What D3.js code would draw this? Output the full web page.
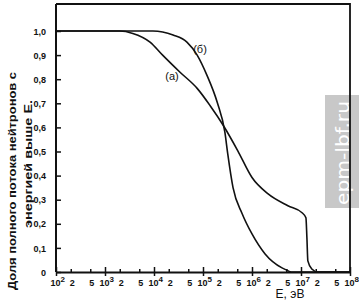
<!DOCTYPE html>
<html>
<head>
<meta charset="utf-8">
<script src="https://cdn.jsdelivr.net/npm/d3@7"></script>
<style>
  body { margin: 0; background: #fff; }
  svg { display: block; }
  text { font-family: "Liberation Sans", "DejaVu Sans", sans-serif; fill: #111; }
</style>
</head>
<body>
<div id="chart"></div>
<script>
// energy (eV) and fraction of total neutron flux above E
var energyA   = [1e2, 2.0e3, 3.7e3, 8.3e3, 1.5e4, 3.4e4, 7.6e4, 1.4e5, 2.6e5, 5.1e5, 1.0e6, 2.1e6, 5.4e6, 1.05e7, 1.26e7, 1.32e7, 1.38e7, 1.66e7, 2.2e7, 1e8];
var fractionA = [1.0, 1.0, 0.99, 0.954, 0.90, 0.829, 0.762, 0.69, 0.608, 0.504, 0.392, 0.325, 0.275, 0.246, 0.225, 0.142, 0.046, 0.0125, 0, 0];

var energyB   = [1e2, 2.0e3, 9.5e3, 2.45e4, 4.7e4, 7.6e4, 1.2e5, 1.95e5, 2.8e5, 3.2e5, 4.1e5, 6.3e5, 1.0e6, 1.85e6, 4.1e6, 5.1e6, 6.3e6, 1e8];
var fractionB = [1.0, 1.0, 1.0, 0.983, 0.954, 0.90, 0.817, 0.704, 0.579, 0.49, 0.35, 0.242, 0.158, 0.075, 0.017, 0.008, 0, 0];

var curveNames = ["(а)", "(б)"];
var yTicks = [0, 0.1, 0.2, 0.3, 0.4, 0.5, 0.6, 0.7, 0.8, 0.9, 1.0];
var decadeExps = [2, 3, 4, 5, 6, 7, 8];
var minorMults = [2, 5];
var yTitle = ["Доля полного потока нейтронов с", "энергией выше E."];
var xTitle = "E, эВ";

var W = 359, H = 304;
var svg = d3.select("#chart").append("svg")
  .attr("width", W).attr("height", H);

var x = d3.scaleLog().domain([1e2, 1e8]).range([56, 350]);
var y = d3.scaleLinear().domain([0, 1]).range([272, 31]);

// watermark strip
svg.append("rect")
  .attr("x", 325).attr("y", 95).attr("width", 34).attr("height", 113)
  .attr("fill", "#c8c8c8");
svg.append("text")
  .attr("transform", "translate(349,153) rotate(-90)")
  .attr("text-anchor", "middle")
  .attr("textLength", 104).attr("lengthAdjust", "spacingAndGlyphs")
  .style("font-family", "'DejaVu Sans', sans-serif")
  .style("font-size", "18px")
  .style("fill", "#fff")
  .text("epm-lbf.ru");

// frame: top and right sides
svg.append("path")
  .attr("d", "M" + x.range()[0] + "," + 4 + "H" + x.range()[1] + "V" + y.range()[0])
  .attr("fill", "none").attr("stroke", "#111").attr("stroke-width", 1.8);

// y axis
var fmt = function(d) { return d === 0 ? "0" : d3.format(".1f")(d).replace(".", ","); };
var gy = svg.append("g")
  .attr("transform", "translate(" + x.range()[0] + ",0)")
  .call(d3.axisLeft(y).tickValues(yTicks).tickSizeInner(-5).tickSizeOuter(0).tickPadding(10).tickFormat(fmt));
gy.select(".domain").attr("stroke", "#111").attr("stroke-width", 2)
  .attr("d", "M0,4V" + y.range()[0]);
gy.selectAll(".tick line").attr("stroke", "#111").attr("stroke-width", 1.5);
gy.selectAll(".tick text")
  .style("font-size", "9px").style("font-weight", "bold").attr("dy", "0.35em");

// x axis
var xTicks = [];
decadeExps.forEach(function(e) {
  xTicks.push(Math.pow(10, e));
  if (e < 8) minorMults.forEach(function(m) { xTicks.push(m * Math.pow(10, e)); });
});
var isMajor = function(v) { return Math.abs(Math.log10(v) - Math.round(Math.log10(v))) < 1e-9; };

var gx = svg.append("g")
  .attr("transform", "translate(0," + y.range()[0] + ")")
  .call(d3.axisBottom(x).tickValues(xTicks).tickSizeInner(-3).tickSizeOuter(0).tickPadding(8).tickFormat(""));
gx.select(".domain").attr("stroke", "#111").attr("stroke-width", 2);
gx.selectAll(".tick line").attr("stroke", "#111").attr("stroke-width", 1.5)
  .filter(isMajor).attr("y1", 4).attr("y2", -5);
gx.selectAll(".tick text").each(function(v) {
  var t = d3.select(this).attr("y", 14).attr("dy", null)
    .style("font-size", "9px").style("font-weight", "bold");
  if (isMajor(v)) {
    t.attr("text-anchor", "start").attr("dx", -6).text("10");
    t.append("tspan").attr("dy", -4).style("font-size", "8px")
      .text(Math.round(Math.log10(v)));
  } else {
    t.attr("dx", 1).text(v / Math.pow(10, Math.floor(Math.log10(v) + 1e-9)));
  }
});

// curves
var line = d3.line()
  .x(function(d) { return x(d[0]); })
  .y(function(d) { return y(d[1]); })
  .curve(d3.curveMonotoneX);

[[energyA, fractionA], [energyB, fractionB]].forEach(function(s) {
  svg.append("path")
    .datum(d3.zip(s[0], s[1]))
    .attr("d", line)
    .attr("fill", "none").attr("stroke", "#111").attr("stroke-width", 1.6);
});

// curve labels
svg.append("text").attr("x", 172).attr("y", 80).attr("text-anchor", "middle")
  .style("font-size", "11px").text(curveNames[0]);
svg.append("text").attr("x", 200).attr("y", 53).attr("text-anchor", "middle")
  .style("font-size", "11px").text(curveNames[1]);

// titles
svg.append("text")
  .attr("transform", "translate(16,290) rotate(-90)")
  .attr("textLength", 218).attr("lengthAdjust", "spacingAndGlyphs")
  .style("font-size", "11px").style("font-weight", "bold")
  .text(yTitle[0]);
svg.append("text")
  .attr("transform", "translate(32,228) rotate(-90)")
  .attr("textLength", 128).attr("lengthAdjust", "spacingAndGlyphs")
  .style("font-size", "11px").style("font-weight", "bold")
  .text(yTitle[1]);
svg.append("text")
  .attr("x", 290).attr("y", 298).attr("text-anchor", "middle")
  .style("font-size", "12px")
  .text(xTitle);
</script>
</body>
</html>
